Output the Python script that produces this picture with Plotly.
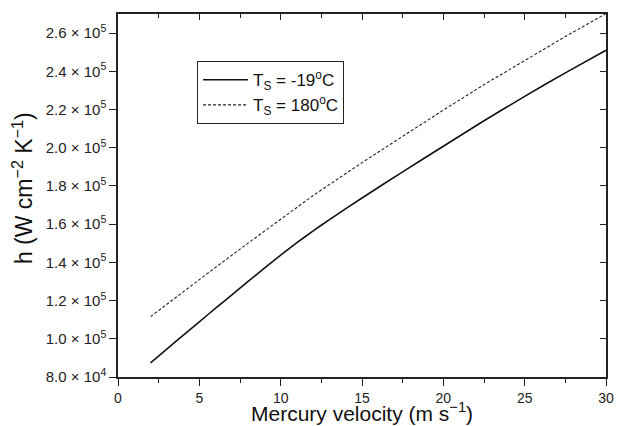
import plotly.graph_objects as go

# Data
v_cold = [2, 3, 4, 5, 6, 7, 8, 9, 10, 11, 12, 13, 15, 17.5, 20, 22.5, 25, 27.5, 30]
h_cold = [87400, 94600, 101800, 108900, 116000, 123000, 130000, 137000, 143800,
          150300, 156500, 162400, 173700, 187400, 200800, 214100, 226900, 239200, 251000]
v_hot = [2, 4, 6, 8, 10, 12, 15, 17.5, 20, 22.5, 25, 27.5, 30]
h_hot = [111600, 124600, 137400, 150100, 162600, 175000, 192200, 206100, 219700,
         233000, 245800, 258200, 270200]

y_tickvals = [80000, 100000, 120000, 140000, 160000, 180000, 200000, 220000, 240000, 260000]
y_ticktext = ["8.0 × 10<sup>4</sup>", "1.0 × 10<sup>5</sup>", "1.2 × 10<sup>5</sup>",
              "1.4 × 10<sup>5</sup>", "1.6 × 10<sup>5</sup>", "1.8 × 10<sup>5</sup>",
              "2.0 × 10<sup>5</sup>", "2.2 × 10<sup>5</sup>", "2.4 × 10<sup>5</sup>",
              "2.6 × 10<sup>5</sup>"]
x_tickvals = [0, 5, 10, 15, 20, 25, 30]

x_title = "Mercury velocity (m s<sup>−1</sup>)"
y_title = "h (W cm<sup>−2</sup> K<sup>−1</sup>)"

font = "Liberation Sans, Arial, sans-serif"

fig = go.Figure()
fig.add_trace(go.Scatter(x=v_cold, y=h_cold, mode="lines",
                         line=dict(color="#111", width=1.6, shape="spline", smoothing=0.6),
                         name="T<sub>S</sub> = -19<sup>o</sup>C"))
fig.add_trace(go.Scatter(x=v_hot, y=h_hot, mode="lines",
                         line=dict(color="#222", width=1.1, dash="3px,2px"),
                         name="T<sub>S</sub> = 180<sup>o</sup>C"))

xr = [0, 30]
yr = [80000, 270000]

fig.update_layout(
    width=620, height=426,
    margin=dict(l=118, r=14, t=14, b=49),
    paper_bgcolor="white", plot_bgcolor="white",
    font=dict(family=font, color="#222", size=14),
    showlegend=True,
    legend=dict(x=0.162, y=0.87, xanchor="left", yanchor="top",
                bordercolor="#222", borderwidth=1, bgcolor="white",
                font=dict(size=17, family=font, color="#111"),
                itemwidth=45, tracegroupgap=2),
    xaxis=dict(range=xr, tickvals=x_tickvals, ticks="outside", ticklen=7,
               tickwidth=1.2, tickcolor="#222", showline=True, linecolor="#222",
               linewidth=1.5, showgrid=False, zeroline=False, automargin=False,
               tickfont=dict(size=14),
               minor=dict(dtick=2.5, tick0=0, ticks="outside", ticklen=4,
                          tickcolor="#222", showgrid=False)),
    yaxis=dict(range=yr, tickvals=y_tickvals, ticktext=y_ticktext,
               ticks="outside", ticklen=7, tickwidth=1.2, tickcolor="#222",
               showline=True, linecolor="#222", linewidth=1.5, automargin=False,
               showgrid=False, zeroline=False, tickfont=dict(size=15)),
    xaxis2=dict(range=xr, overlaying="x", side="top", tickvals=x_tickvals,
                ticks="inside", ticklen=6, tickwidth=1.2, tickcolor="#222",
                showticklabels=False, showline=True, linecolor="#222",
                linewidth=1.5, showgrid=False, zeroline=False, automargin=False,
                minor=dict(dtick=2.5, tick0=0, ticks="inside", ticklen=4,
                           tickcolor="#222", showgrid=False)),
    yaxis2=dict(range=yr, overlaying="y", side="right", tickvals=y_tickvals,
                ticks="inside", ticklen=6, tickwidth=1.2, tickcolor="#222",
                showticklabels=False, showline=True, linecolor="#222",
                linewidth=1.5, showgrid=False, zeroline=False, automargin=False),
    annotations=[
        dict(text=x_title, xref="paper", yref="paper", x=0.5, y=-0.096,
             xanchor="center", yanchor="middle", showarrow=False,
             font=dict(size=21, color="#111", family=font)),
        dict(text=y_title, xref="paper", yref="paper", x=-0.195, y=0.52,
             xanchor="center", yanchor="middle", showarrow=False, textangle=-90,
             font=dict(size=23, color="#111", family=font)),
    ],
)
# invisible trace to make sure secondary axes render
fig.add_trace(go.Scatter(x=[None], y=[None], xaxis="x2", yaxis="y2",
                         showlegend=False, hoverinfo="skip"))

fig.write_html("out.html")
